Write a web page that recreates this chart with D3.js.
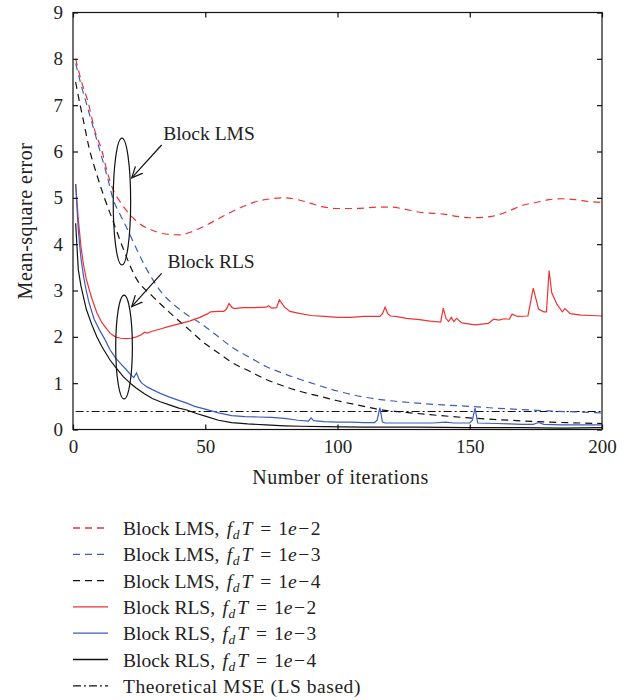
<!DOCTYPE html>
<html>
<head>
<meta charset="utf-8">
<script src="https://cdn.jsdelivr.net/npm/d3@7"></script>
<style>
  body { margin: 0; background: #fff; }
  text { font-family: "Liberation Serif", "Times New Roman", serif; fill: #222; }
</style>
</head>
<body>
<script>
// series values, [iteration, mse]
var lms2 = [[1,8.0],[3,7.55],[6,7.0],[8,6.5],[11,6.0],[13,5.55],[15,5.2],[18,4.9],[21,4.67],[25,4.45],[30,4.3],[35,4.22],[40,4.2],[45,4.27],[50,4.4],[55,4.55],[60,4.7],[65,4.83],[70,4.93],[75,4.98],[80,5.0],[85,4.96],[90,4.88],[95,4.8],[100,4.77],[105,4.77],[110,4.78],[115,4.8],[120,4.8],[125,4.76],[130,4.7],[135,4.67],[140,4.65],[145,4.6],[150,4.57],[155,4.58],[160,4.62],[165,4.72],[170,4.84],[175,4.9],[180,4.96],[185,4.98],[190,4.96],[195,4.92],[200,4.9]];
var lms3 = [[1,7.9],[3,7.45],[5,7.05],[8,6.45],[10,6.05],[13,5.45],[15,5.0],[18,4.62],[21,4.27],[24,3.9],[27,3.55],[30,3.25],[34,2.92],[38,2.7],[42,2.52],[48,2.3],[55,2.0],[60,1.78],[67,1.55],[73,1.36],[80,1.2],[86,1.08],[93,0.95],[100,0.83],[110,0.7],[120,0.62],[130,0.57],[140,0.53],[150,0.5],[160,0.46],[170,0.43],[180,0.4],[190,0.38],[200,0.36]];
var lms4 = [[1,7.5],[2,7.2],[4,6.65],[6,6.1],[9,5.5],[12,4.98],[15,4.52],[19,3.9],[24,3.25],[30,2.88],[37,2.5],[44,2.15],[50,1.85],[55,1.65],[60,1.45],[67,1.25],[73,1.08],[80,0.93],[86,0.82],[93,0.72],[100,0.62],[110,0.5],[116,0.43],[124,0.38],[135,0.32],[150,0.25],[165,0.2],[180,0.16],[200,0.13]];
var rls2 = [[1,5.3],[2,4.55],[3,3.95],[4,3.55],[5,3.25],[7,2.85],[9,2.52],[11,2.3],[14,2.08],[16,2.0],[18,1.97],[20,1.96],[22,1.97],[24,2.0],[26,2.05],[27,2.1],[28,2.08],[30,2.12],[33,2.17],[36,2.22],[40,2.28],[44,2.34],[48,2.42],[51,2.5],[52,2.54],[55,2.55],[57,2.55],[58,2.6],[59,2.72],[60,2.64],[61,2.61],[64,2.63],[68,2.63],[73,2.64],[74,2.67],[75,2.62],[77,2.63],[78,2.8],[80,2.64],[82,2.55],[86,2.5],[90,2.46],[95,2.44],[100,2.42],[105,2.42],[110,2.44],[116,2.44],[117,2.5],[118,2.64],[119,2.5],[120,2.45],[122,2.44],[126,2.4],[131,2.37],[135,2.34],[139,2.32],[140,2.62],[141,2.4],[142,2.33],[143,2.42],[144,2.33],[145,2.4],[147,2.3],[152,2.26],[157,2.29],[159,2.38],[161,2.36],[163,2.39],[165,2.38],[166,2.49],[168,2.44],[172,2.45],[174,3.05],[176,2.6],[178,2.54],[179,2.54],[180,3.43],[181,2.95],[183,2.7],[185,2.54],[186,2.61],[188,2.5],[192,2.47],[196,2.46],[200,2.45]];
var rls3 = [[1,5.3],[2,4.3],[3,3.7],[4,3.3],[5,3.0],[6,2.75],[8,2.38],[10,2.15],[12,1.95],[14,1.72],[16,1.55],[18,1.42],[20,1.3],[22,1.17],[23,1.12],[24,1.22],[25,1.08],[26,1.0],[28,0.92],[30,0.86],[33,0.78],[36,0.71],[40,0.63],[43,0.57],[46,0.5],[50,0.44],[55,0.36],[60,0.3],[65,0.28],[70,0.27],[75,0.26],[80,0.24],[85,0.2],[89,0.18],[90,0.25],[91,0.19],[95,0.17],[100,0.16],[105,0.16],[110,0.15],[114,0.15],[115,0.2],[116,0.47],[117,0.16],[118,0.14],[125,0.14],[131,0.14],[136,0.14],[141,0.16],[144,0.14],[150,0.14],[151,0.2],[152,0.46],[153,0.14],[160,0.13],[165,0.12],[170,0.11],[174,0.11],[176,0.15],[178,0.11],[185,0.1],[190,0.1],[195,0.1],[200,0.1]];
var rls4 = [[1,4.45],[2,3.45],[3,3.1],[5,2.6],[7,2.28],[9,2.0],[11,1.78],[14,1.5],[16,1.35],[19,1.14],[22,0.98],[24,0.89],[27,0.77],[30,0.67],[33,0.6],[37,0.52],[40,0.46],[43,0.42],[47,0.34],[50,0.29],[55,0.2],[60,0.15],[66,0.12],[73,0.1],[80,0.08],[86,0.07],[95,0.06],[110,0.05],[130,0.05],[150,0.04],[170,0.04],[185,0.03],[200,0.04]];
var mse = [[1,0.39],[200,0.39]];

var xTicks = [0, 50, 100, 150, 200];
var yTicks = [0, 1, 2, 3, 4, 5, 6, 7, 8, 9];
var fdT = ["\u22122", "\u22123", "\u22124", "\u22122", "\u22123", "\u22124"];

// annotation spots in data units
var ellipses = [{x: 18.5, y: 4.92, rx: 3.3, ry: 1.37}, {x: 19.3, y: 1.78, rx: 3.15, ry: 1.12}];
var arrows = [{x1: 33.5, y1: 6.14, x2: 22.2, y2: 5.43}, {x1: 33.5, y1: 3.37, x2: 22.2, y2: 2.65}];
var notes = [{x: 34.1, y: 6.24, t: "Block LMS"}, {x: 35.7, y: 3.48, t: "Block RLS"}];

var red = "#f03232", blue = "#3c5cbe", black = "#111";
var series = [
  {d: lms2, c: red, dash: "7,5", smooth: true, name: "Block LMS, "},
  {d: lms3, c: blue, dash: "7,5", smooth: true, name: "Block LMS, "},
  {d: lms4, c: black, dash: "7,5", smooth: true, name: "Block LMS, "},
  {d: rls2, c: red, dash: null, name: "Block RLS, "},
  {d: rls3, c: blue, dash: null, name: "Block RLS, "},
  {d: rls4, c: black, dash: null, name: "Block RLS, "}
];

var svgWidth = 632, svgHeight = 700;
var margin = {top: 12.5, left: 73, right: 30, bottom: 270.5};
var width = svgWidth - margin.left - margin.right;
var height = svgHeight - margin.top - margin.bottom;

var svg = d3.select("body").append("svg").attr("width", svgWidth).attr("height", svgHeight);
var chart = svg.append("g").attr("transform", `translate(${margin.left},${margin.top})`);

var x = d3.scaleLinear().domain([0, 200]).range([0, width]);
var y = d3.scaleLinear().domain([0, 9]).range([height, 0]);

svg.append("defs").append("clipPath").attr("id", "clip")
  .append("rect").attr("width", width).attr("height", height);

var plot = chart.append("g").attr("clip-path", "url(#clip)");

// theoretical line first
plot.append("path")
  .attr("d", d3.line().x(d => x(d[0])).y(d => y(d[1]))(mse))
  .attr("fill", "none").attr("stroke", black).attr("stroke-width", 1.1)
  .attr("stroke-dasharray", "8,3,2,3");

series.forEach(function(s) {
  var line = d3.line().x(d => x(d[0])).y(d => y(d[1]))
    .curve(s.smooth ? d3.curveMonotoneX : d3.curveLinear);
  plot.append("path")
    .attr("d", line(s.d))
    .attr("fill", "none").attr("stroke", s.c).attr("stroke-width", 1.2)
    .attr("stroke-dasharray", s.dash);
});

// box + inward ticks
chart.append("rect").attr("width", width).attr("height", height)
  .attr("fill", "none").attr("stroke", "#111").attr("stroke-width", 1.2);

chart.append("g").attr("transform", `translate(0,${height})`)
  .call(d3.axisBottom(x).tickValues(xTicks).tickSizeInner(-5).tickSizeOuter(0).tickPadding(10))
  .call(g => g.select(".domain").remove());
chart.append("g")
  .call(d3.axisTop(x).tickValues(xTicks).tickSizeInner(-5).tickSizeOuter(0).tickFormat(""))
  .call(g => g.select(".domain").remove());
chart.append("g")
  .call(d3.axisLeft(y).tickValues(yTicks).tickSizeInner(-5).tickSizeOuter(0).tickPadding(10))
  .call(g => g.select(".domain").remove());
chart.append("g").attr("transform", `translate(${width},0)`)
  .call(d3.axisRight(y).tickValues(yTicks).tickSizeInner(-5).tickSizeOuter(0).tickFormat(""))
  .call(g => g.select(".domain").remove());

chart.selectAll(".tick line").attr("stroke", "#111").attr("stroke-width", 1.2);
chart.selectAll(".tick text").attr("font-size", 19).attr("font-family", "Liberation Serif").attr("fill", "#222");

// axis titles
chart.append("text")
  .attr("text-anchor", "middle")
  .attr("x", width / 2 + 3).attr("y", height + 54)
  .attr("font-size", 20).attr("letter-spacing", 0.5)
  .text("Number of iterations");
chart.append("text")
  .attr("text-anchor", "middle")
  .attr("transform", `translate(${32 - margin.left},${height / 2})rotate(-90)`)
  .attr("font-size", 20).attr("letter-spacing", 0.5)
  .text("Mean-square error");

// annotations
svg.append("defs").append("marker")
  .attr("id", "head").attr("viewBox", "0 0 12 12").attr("refX", 11).attr("refY", 6)
  .attr("markerWidth", 12).attr("markerHeight", 12).attr("markerUnits", "userSpaceOnUse")
  .attr("orient", "auto")
  .append("path").attr("d", "M0,1 L11,6 L0,11").attr("fill", "none").attr("stroke", "#111").attr("stroke-width", 1.2);

chart.selectAll(".ell").data(ellipses).enter().append("ellipse")
  .attr("cx", d => x(d.x)).attr("cy", d => y(d.y))
  .attr("rx", d => x(d.rx) - x(0)).attr("ry", d => y(0) - y(d.ry))
  .attr("fill", "none").attr("stroke", "#111").attr("stroke-width", 1.2);

chart.selectAll(".arr").data(arrows).enter().append("line")
  .attr("x1", d => x(d.x1)).attr("y1", d => y(d.y1))
  .attr("x2", d => x(d.x2)).attr("y2", d => y(d.y2))
  .attr("stroke", "#111").attr("stroke-width", 1.2).attr("marker-end", "url(#head)");

chart.selectAll(".note").data(notes).enter().append("text")
  .attr("x", d => x(d.x)).attr("y", d => y(d.y))
  .attr("font-size", 19.5)
  .text(d => d.t);

// legend
var legend = svg.append("g").attr("transform", "translate(73,528)");
var rowH = 26.3;
var rows = series.map((s, i) => ({c: s.c, dash: s.dash, name: s.name, v: fdT[i]}));
rows.push({c: black, dash: "8,3,2,3", name: "Theoretical MSE (LS based)", v: null});

rows.forEach(function(r, i) {
  var g = legend.append("g").attr("transform", `translate(0,${i * rowH})`);
  g.append("line").attr("x1", 0).attr("x2", 35).attr("y1", 0).attr("y2", 0)
    .attr("stroke", r.c).attr("stroke-width", 1.3).attr("stroke-dasharray", r.dash);
  var t = g.append("text").attr("x", 50).attr("y", 7).attr("font-size", 19.5);
  t.append("tspan").text(r.name);
  if (r.v) {
    t.append("tspan").attr("font-style", "italic").attr("dx", 2.5).text("f");
    t.append("tspan").attr("font-style", "italic").attr("font-size", 13.5).attr("dx", 0.5).attr("dy", 4).text("d");
    t.append("tspan").attr("font-style", "italic").attr("dx", 2).attr("dy", -4).text("T");
    t.append("tspan").attr("dx", 8).text("=");
    t.append("tspan").attr("dx", 7).text("1");
    t.append("tspan").attr("font-style", "italic").text("e");
    t.append("tspan").attr("dx", 1.5).text(r.v.slice(0, 1));
    t.append("tspan").attr("dx", 1.5).text(r.v.slice(1));
  } else {
    t.attr("letter-spacing", 0.55);
  }
});
</script>
</body>
</html>
